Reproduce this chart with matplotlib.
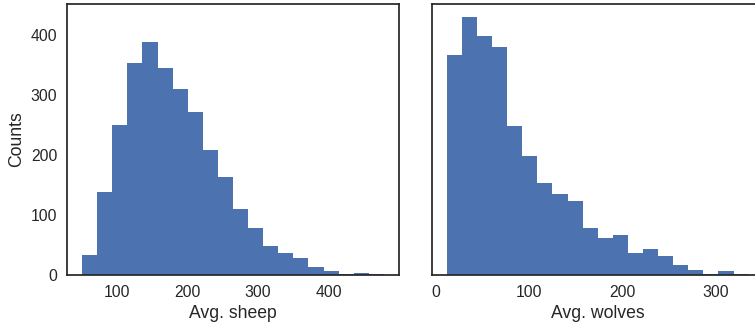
import matplotlib
matplotlib.use("Agg")
import matplotlib.pyplot as plt
import seaborn as sns

# counts per bin (20 equal bins each)
sheep_counts = [34, 138, 250, 354, 389, 345, 310, 272, 208, 163,
                111, 78, 49, 37, 28, 13, 7, 2, 4, 2]
sheep_range = (51, 478)

wolves_counts = [367, 431, 399, 380, 248, 198, 153, 136, 124, 79,
                 61, 66, 37, 44, 32, 17, 9, 2, 7, 2]
wolves_range = (12, 335)

n_bins = 20
bar_color = "#4C72B0"

sns.set_style("white")
plt.rcParams["font.family"] = ["Liberation Sans", "DejaVu Sans"]
plt.rcParams["axes.edgecolor"] = ".15"
plt.rcParams["axes.linewidth"] = 1.25
plt.rcParams["xtick.color"] = ".15"
plt.rcParams["ytick.color"] = ".15"
plt.rcParams["xtick.labelsize"] = 11.3
plt.rcParams["ytick.labelsize"] = 11.3
plt.rcParams["axes.labelsize"] = 12.7
plt.rcParams["axes.labelcolor"] = ".15"


def bin_centers(lo, hi, n):
    # one sample at the middle of every bin, weighted by the count
    w = (hi - lo) / n
    return [lo + w * (i + 0.5) for i in range(n)]


fig = plt.figure(figsize=(7.55, 3.28), dpi=100)
ax1 = fig.add_axes([0.0887, 0.1616, 0.4398, 0.8264])
ax2 = fig.add_axes([0.5718, 0.1616, 0.4398, 0.8264], sharey=ax1)

ax1.hist(bin_centers(*sheep_range, n_bins), bins=n_bins, range=sheep_range,
         weights=sheep_counts, color=bar_color, edgecolor="none", linewidth=0)
ax2.hist(bin_centers(*wolves_range, n_bins), bins=n_bins, range=wolves_range,
         weights=wolves_counts, color=bar_color, edgecolor="none", linewidth=0)

ax1.set_xlabel("Avg. sheep")
ax2.set_xlabel("Avg. wolves")
ax1.set_ylabel("Counts")
ax1.set_yticks([0, 100, 200, 300, 400])
ax1.set_xticks([100, 200, 300, 400])
ax2.set_xticks([0, 100, 200, 300])
ax2.tick_params(labelleft=False)

for ax in (ax1, ax2):
    ax.tick_params(length=0, pad=7)

fig.savefig("out.png", dpi=100)
